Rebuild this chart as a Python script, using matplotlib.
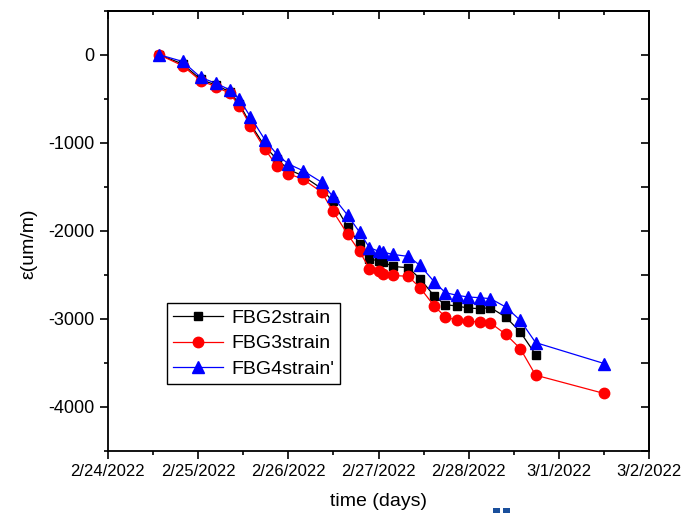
import numpy as np
import pandas as pd
import matplotlib
matplotlib.use("Agg")
import matplotlib.pyplot as plt
import matplotlib.dates as mdates
from matplotlib.ticker import MultipleLocator, FuncFormatter
from matplotlib.patches import Rectangle

plt.rcParams['font.family'] = ['Liberation Sans', 'DejaVu Sans']
plt.rcParams['axes.unicode_minus'] = False

times = ["2022-02-24 13:41", "2022-02-24 19:55", "2022-02-25 00:43", "2022-02-25 04:48",
         "2022-02-25 08:24", "2022-02-25 11:02", "2022-02-25 13:55", "2022-02-25 17:46",
         "2022-02-25 20:53", "2022-02-26 00:00", "2022-02-26 03:50", "2022-02-26 08:53",
         "2022-02-26 11:46", "2022-02-26 15:50", "2022-02-26 18:58", "2022-02-26 21:36",
         "2022-02-27 00:00", "2022-02-27 01:12", "2022-02-27 03:50", "2022-02-27 07:55",
         "2022-02-27 11:02", "2022-02-27 14:53", "2022-02-27 17:46", "2022-02-27 20:53",
         "2022-02-27 23:46", "2022-02-28 02:53", "2022-02-28 05:46", "2022-02-28 09:50",
         "2022-02-28 13:41", "2022-02-28 17:46", "2022-03-01 12:00"]

fbg2 = [0, -105, -280, -345, -420, -560, -785, -1040, -1183, -1300, -1375, -1520,
        -1663, -1958, -2146, -2316, -2343, -2354, -2404, -2419, -2543, -2744, -2838,
        -2854, -2876, -2884, -2872, -2979, -3148, -3405]
fbg3 = [0, -125, -295, -363, -438, -582, -805, -1069, -1259, -1353, -1410, -1561,
        -1769, -2041, -2234, -2430, -2460, -2487, -2506, -2517, -2646, -2857, -2978,
        -3016, -3027, -3035, -3046, -3175, -3337, -3639, -3847]
fbg4 = [0, -76, -257, -325, -397, -507, -703, -964, -1126, -1240, -1315, -1448,
        -1606, -1825, -2015, -2192, -2230, -2241, -2268, -2290, -2392, -2582, -2702,
        -2732, -2751, -2759, -2770, -2865, -3016, -3269, -3507]

x = mdates.date2num(pd.to_datetime(times))

fig = plt.figure(figsize=(6.83, 5.13), dpi=100)
ax = fig.add_axes([0.1577, 0.1209, 0.7930, 0.8582])

ax.plot(x[:len(fbg2)], fbg2, color='black', marker='s', markersize=6, lw=0.9, label='FBG2strain')
ax.plot(x, fbg3, color='red', marker='o', markersize=7.5, lw=0.9, label='FBG3strain')
ax.plot(x, fbg4, color='blue', marker='^', markersize=8, lw=0.9, label="FBG4strain'")

x0 = mdates.date2num(pd.Timestamp("2022-02-24"))
x1 = mdates.date2num(pd.Timestamp("2022-03-02"))
ax.set_xlim(x0, x1)
ax.set_ylim(-4500, 500)

def date_label(v, pos):
    d = mdates.num2date(v)
    return f"{d.month}/{d.day}/{d.year}"

ax.xaxis.set_major_locator(MultipleLocator(1))
ax.xaxis.set_minor_locator(MultipleLocator(0.5))
ax.xaxis.set_major_formatter(FuncFormatter(date_label))
ax.yaxis.set_major_locator(MultipleLocator(1000))
ax.yaxis.set_minor_locator(MultipleLocator(500))

ax.tick_params(which='major', direction='out', length=6, width=1.2, labelsize=12)
ax.tick_params(axis='y', labelsize=13)
ax.tick_params(which='minor', direction='out', length=3, width=1.2)
for s in ax.spines.values():
    s.set_linewidth(1.3)

# mirrored ticks on top/right pointing inward
top = ax.secondary_xaxis('top')
top.xaxis.set_major_locator(MultipleLocator(1))
top.xaxis.set_minor_locator(MultipleLocator(0.5))
top.tick_params(which='major', direction='in', length=6, width=1.2, labeltop=False)
top.tick_params(which='minor', direction='in', length=3, width=1.2)
right = ax.secondary_yaxis('right')
right.yaxis.set_major_locator(MultipleLocator(1000))
right.yaxis.set_minor_locator(MultipleLocator(500))
right.tick_params(which='major', direction='in', length=6, width=1.2, labelright=False)
right.tick_params(which='minor', direction='in', length=6, width=1.2)
for sa in (top, right):
    for s in sa.spines.values():
        s.set_linewidth(1.3)

ax.set_xlabel('time (days)', fontsize=14)
ax.set_ylabel('ε(um/m)', fontsize=14)
ax.xaxis.set_label_coords(0.5, -0.095)
ax.yaxis.set_label_coords(-0.13, 0.47)

leg = ax.legend(loc='lower left', bbox_to_anchor=(0.109, 0.152), fontsize=14,
                frameon=True, fancybox=False, edgecolor='black', framealpha=1,
                borderaxespad=0, labelspacing=0.42, handlelength=2.6,
                handletextpad=0.4, borderpad=0.3)
leg.get_frame().set_linewidth(1.0)

# small cropped blue fragment at the bottom edge of the picture
for fx in (0.7218, 0.7365):
    fig.add_artist(Rectangle((fx, 0), 0.0102, 0.0097, transform=fig.transFigure,
                             color='#1a4f9c', lw=0))

fig.savefig('out.png', dpi=100)
